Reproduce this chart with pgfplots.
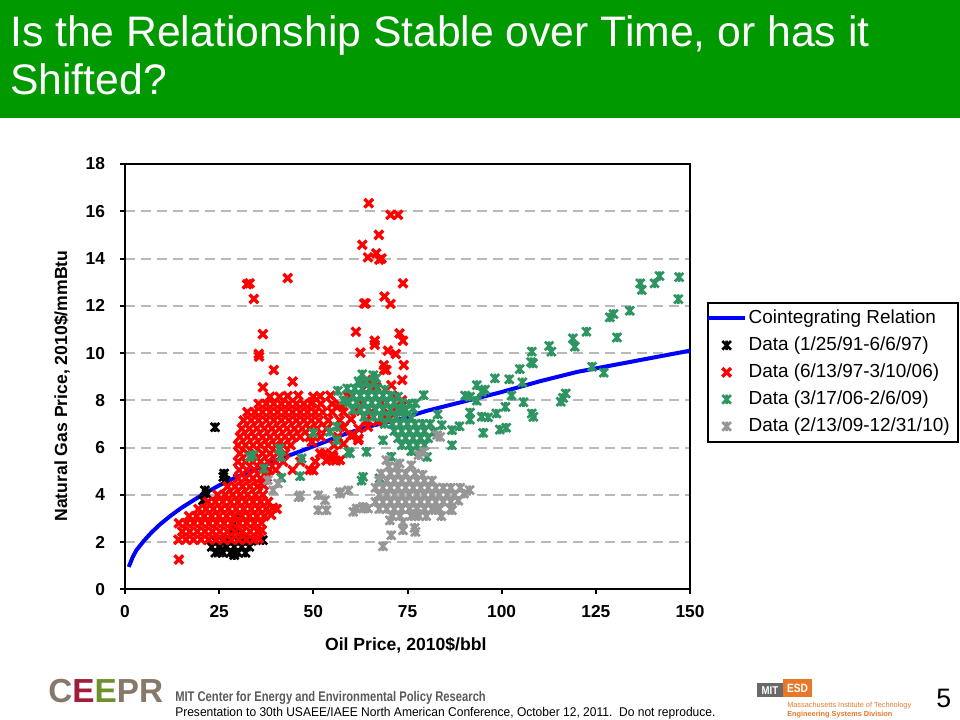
\documentclass[border=0pt]{standalone}
\usepackage{fontspec}
\setmainfont{Liberation Sans}
\usepackage{graphicx}
\usepackage{pgfplots}
\pgfplotsset{compat=1.18}

\definecolor{titlegreen}{RGB}{0,153,0}
\definecolor{gridgray}{RGB}{185,185,185}
\definecolor{seagreen}{RGB}{45,148,98}
\definecolor{markgray}{RGB}{150,150,150}
\definecolor{ceeprgray}{RGB}{135,120,105}
\definecolor{ceeprred}{RGB}{160,30,60}
\definecolor{ceeprgreen}{RGB}{110,145,45}
\definecolor{mitgray}{RGB}{105,105,105}
\definecolor{esdorange}{RGB}{230,120,40}
\definecolor{footgray}{RGB}{90,90,90}

% Excel-like markers: plain x and x with a vertical bar
\pgfdeclareplotmark{exx}{%
  \pgfpathmoveto{\pgfqpoint{-\pgfplotmarksize}{-\pgfplotmarksize}}%
  \pgfpathlineto{\pgfqpoint{\pgfplotmarksize}{\pgfplotmarksize}}%
  \pgfpathmoveto{\pgfqpoint{-\pgfplotmarksize}{\pgfplotmarksize}}%
  \pgfpathlineto{\pgfqpoint{\pgfplotmarksize}{-\pgfplotmarksize}}%
  \pgfusepathqstroke}
\pgfdeclareplotmark{exstar}{%
  \pgfpathmoveto{\pgfqpoint{-\pgfplotmarksize}{-\pgfplotmarksize}}%
  \pgfpathlineto{\pgfqpoint{\pgfplotmarksize}{\pgfplotmarksize}}%
  \pgfpathmoveto{\pgfqpoint{-\pgfplotmarksize}{\pgfplotmarksize}}%
  \pgfpathlineto{\pgfqpoint{\pgfplotmarksize}{-\pgfplotmarksize}}%
  \pgfpathmoveto{\pgfqpoint{0pt}{-1.1\pgfplotmarksize}}%
  \pgfpathlineto{\pgfqpoint{0pt}{1.1\pgfplotmarksize}}%
  \pgfusepathqstroke}

\pgfplotsset{
  markleg/.style={legend image code/.code={%
    \path[draw=none,fill=none] (0pt,0pt) -- (28pt,0pt);
    \draw[mark repeat=2,mark phase=2,##1] plot coordinates {(0pt,0pt) (14pt,0pt) (28pt,0pt)};}},
  lineleg/.style={legend image code/.code={%
    \path[draw=none,fill=none] (0pt,-1pt) rectangle (28pt,1pt);
    \draw[##1,overlay] (0pt,0pt) -- (28pt,0pt);}},
}

\begin{document}
\begin{tikzpicture}
\useasboundingbox (0,0) rectangle (720pt,-540pt);
\fill[white] (0,0) rectangle (720pt,-540pt);

\begin{scope}[x=0.75pt,y=-0.75pt]
  % title bar
  \fill[titlegreen] (0,0) rectangle (960,118);
  \node[anchor=base west, inner sep=0pt, text=white, font=\fontsize{32}{36}\selectfont]
    at (10,47) {Is the Relationship Stable over Time, or has it};
  \node[anchor=base west, inner sep=0pt, text=white, font=\fontsize{32}{36}\selectfont]
    at (10,95) {Shifted?};

  % footer
  \node[anchor=base west, inner sep=0pt, font=\fontsize{25}{25}\selectfont\bfseries]
    at (48,702) {\textcolor{ceeprgray}{C}\textcolor{ceeprred}{E}\textcolor{ceeprgreen}{E}\textcolor{ceeprgray}{PR}};
  \node[anchor=base west, inner sep=0pt, text=footgray, font=\fontsize{10.5}{12}\selectfont\bfseries]
    at (175,701) {\scalebox{0.80}[1]{MIT Center for Energy and Environmental Policy Research}};
  \node[anchor=base west, inner sep=0pt, font=\fontsize{9.5}{11}\selectfont]
    at (175,716) {\scalebox{0.95}[1]{Presentation to 30th USAEE/IAEE North American Conference, October 12, 2011.\ \ Do not reproduce.}};
  \fill[mitgray] (757,683) rectangle (783,697);
  \node[text=white, inner sep=0pt, font=\fontsize{8.5}{9}\selectfont\bfseries] at (770,690.5) {\scalebox{0.85}[1]{MIT}};
  \fill[esdorange] (783,679) rectangle (812,697);
  \node[text=white, inner sep=0pt, font=\fontsize{9}{9}\selectfont\bfseries] at (797.5,688.5) {\scalebox{0.85}[1]{ESD}};
  \node[anchor=base west, inner sep=0pt, text=esdorange, font=\fontsize{5.5}{6}\selectfont]
    at (787,707) {Massachusetts Institute of Technology};
  \node[anchor=base west, inner sep=0pt, text=esdorange, font=\fontsize{5.5}{6}\selectfont\bfseries]
    at (787,716) {Engineering Systems Division};
  \node[anchor=base west, inner sep=0pt, font=\fontsize{20}{20}\selectfont] at (936,707) {5};
\end{scope}

\begin{axis}[
  at={(93.75pt,-442pt)}, anchor=south west,
  scale only axis, width=423.75pt, height=319pt,
  xmin=0, xmax=150, ymin=0, ymax=18,
  xtick={0,25,...,150}, ytick={0,2,...,18},
  tick align=outside, tick pos=left, major tick length=3.5pt,
  tick style={line width=1.5pt, black},
  axis line style={line width=1.5pt, black},
  ymajorgrids,
  major grid style={line width=1.5pt, color=gridgray, dash pattern=on 7.5pt off 4.5pt},
  ticklabel style={font=\fontsize{13}{15}\selectfont\bfseries},
  /pgf/number format/assume math mode=true,
  yticklabel style={xshift=-8pt},
  xticklabel style={yshift=-5pt},
  xlabel={Oil Price, 2010\$/bbl},
  ylabel={Natural Gas Price, 2010\$/mmBtu},
  label style={font=\fontsize{13.2}{15}\selectfont\bfseries},
  xlabel style={at={(axis description cs:0.497,-0.131)}, anchor=center},
  ylabel style={at={(axis description cs:-0.1115,0.478)}, anchor=center},
  legend cell align=left,
  legend style={at={(axis description cs:1.030,0.6755)}, anchor=north west,
    draw=black, line width=1.5pt, font=\fontsize{14.2}{16}\selectfont,
    inner xsep=0pt, inner ysep=5pt, row sep=7.25pt,
    nodes={inner sep=0pt, text height=10pt, text depth=3pt},
    /tikz/every odd column/.append style={column sep=2.5pt}},
]

\addplot[blue, line width=3pt, lineleg]
coordinates {
(1,0.95) (1.5,1.15) (2,1.35) (3,1.65) (4,1.85) (5,2.05) (7,2.4) (9.3,2.75)
(12,3.1) (15,3.45) (20,3.95) (25,4.4) (30,4.78) (35,5.1) (40,5.45) (45,5.75)
(50,6.05) (58,6.55) (65,6.9) (73,7.2) (80,7.55) (90,7.95) (100,8.35)
(110,8.8) (120,9.2) (130,9.5) (140,9.8) (150,10.1)
};
\addlegendentry{Cointegrating Relation}

% 1/25/91-6/6/97
\addplot[only marks, black, mark=exstar, mark size=3.2pt, mark options={line width=2pt}, markleg]
coordinates {
(24.0,1.55) (26.0,1.55) (28.0,1.55) (30.0,1.55) (32.0,1.55)
(23.0,1.8) (25.0,1.8) (27.0,1.8) (29.0,1.8) (31.0,1.8) (33.0,1.8)
(24.0,2.05) (26.0,2.05) (28.0,2.05) (30.0,2.05) (32.0,2.05) (33.6,2.05)
(25.5,1.65) (29.0,1.45) (31.0,2.2) (27.5,2.1) (36.6,2.08) (23.9,6.86)
(21.2,4.19) (20.7,3.77) (21.7,4.05) (26.1,4.76) (26.7,4.6) (26.3,4.9)
(29.1,2.6) (29.3,3.0)
};
\addlegendentry{Data (1/25/91-6/6/97)}

% 6/13/97-3/10/06
\addplot[only marks, red, mark=exx, mark size=3.2pt, mark options={line width=2.5pt}, markleg]
coordinates {
(14.2,2.1) (16.2,2.1) (18.2,2.1) (20.2,2.1) (22.2,2.1) (24.2,2.1) (26.2,2.1) (28.2,2.1) (30.2,2.1) (32.2,2.1) (34.2,2.1) (35.5,2.15)
(15.2,2.45) (17.2,2.45) (19.2,2.45) (21.2,2.45) (23.2,2.45) (25.2,2.45) (27.2,2.45) (29.2,2.45) (31.2,2.45) (33.2,2.45) (35.2,2.45) (36.3,2.5)
(14.3,2.8) (16.3,2.8) (18.3,2.8) (20.3,2.8) (22.3,2.8) (24.3,2.8) (26.3,2.8) (28.3,2.8) (30.3,2.8) (32.3,2.8) (34.3,2.8) (36.2,2.8)
(17.0,3.1) (19.0,3.1) (21.0,3.1) (23.0,3.1) (25.0,3.1) (27.0,3.1) (29.0,3.1) (31.0,3.1) (33.0,3.1) (35.0,3.1) (37.0,3.1) (38.8,3.15)
(19.5,3.4) (21.5,3.4) (23.5,3.4) (25.5,3.4) (27.5,3.4) (29.5,3.4) (31.5,3.4) (33.5,3.4) (35.5,3.4) (37.5,3.4) (39.3,3.45) (40.3,3.4)
(22.0,3.7) (24.0,3.7) (26.0,3.7) (28.0,3.7) (30.0,3.7) (32.0,3.7) (34.0,3.7) (36.0,3.7) (38.0,3.7)
(24.6,4.0) (26.6,4.0) (28.6,4.0) (30.6,4.0) (32.6,4.0) (34.6,4.0) (36.6,4.0)
(27.2,4.35) (29.2,4.35) (31.2,4.35) (33.2,4.35) (35.2,4.35) (36.8,4.4)
(30.0,4.7) (32.0,4.7) (34.0,4.7) (36.0,4.7) (37.6,4.75)
(30.3,5.05) (32.3,5.05) (34.3,5.05) (36.3,5.05) (38.3,5.05) (40.0,5.05) (44.5,5.05) (49.0,5.05)
(30.0,5.4) (32.0,5.4) (34.0,5.4) (36.0,5.4) (38.0,5.4) (40.0,5.4) (42.0,5.4) (46.5,5.4) (50.5,5.4) (53.5,5.45) (56.0,5.45)
(30.5,5.75) (32.5,5.75) (34.5,5.75) (36.5,5.75) (38.5,5.75) (40.5,5.75) (42.5,5.75) (53.0,5.75) (55.0,5.7)
(30.0,6.1) (32.0,6.1) (34.0,6.1) (36.0,6.1) (38.0,6.1) (40.0,6.1) (42.0,6.1) (44.0,6.1) (55.5,6.1) (58.0,6.15)
(30.5,6.45) (32.5,6.45) (34.5,6.45) (36.5,6.45) (38.5,6.45) (40.5,6.45) (42.5,6.45) (44.5,6.45) (46.5,6.45) (49.0,6.45) (52.0,6.45) (56.5,6.45) (60.0,6.5)
(31.0,6.8) (33.0,6.8) (35.0,6.8) (37.0,6.8) (39.0,6.8) (41.0,6.8) (43.0,6.8) (45.0,6.8) (47.0,6.8) (49.0,6.8) (51.0,6.8) (53.5,6.8) (58.0,6.85) (62.0,6.8)
(31.5,7.15) (33.5,7.15) (35.5,7.15) (37.5,7.15) (39.5,7.15) (41.5,7.15) (43.5,7.15) (45.5,7.15) (47.5,7.15) (49.5,7.15) (51.5,7.15) (54.0,7.15) (57.0,7.15) (60.0,7.2) (64.0,7.15) (67.0,7.1)
(32.5,7.5) (34.5,7.5) (36.5,7.5) (38.5,7.5) (40.5,7.5) (42.5,7.5) (44.5,7.5) (46.5,7.5) (48.5,7.5) (50.5,7.5) (52.5,7.5) (55.0,7.5) (58.0,7.5) (61.0,7.55) (65.5,7.5) (70.0,7.45)
(35.5,7.85) (37.5,7.85) (39.5,7.85) (41.5,7.85) (43.5,7.85) (45.5,7.85) (47.5,7.85) (49.5,7.85) (52.0,7.85) (55.0,7.85) (59.0,7.9) (63.0,7.85) (68.0,7.9)
(38.5,8.15) (41.0,8.15) (46.0,8.2) (50.0,8.15) (54.5,8.2) (59.0,8.2)
(14.3,1.26) (64.7,16.34) (70.5,15.85) (72.5,15.85) (67.4,15.0) (63.0,14.58)
(64.5,14.05) (66.7,14.22) (68.1,14.0) (67.5,13.95) (32.4,12.91) (33.1,12.95)
(43.2,13.17) (73.8,12.95) (34.2,12.29) (63.5,12.1) (63.9,12.1) (68.9,12.39)
(70.5,12.08) (36.6,10.8) (61.3,10.9) (66.3,10.52) (66.3,10.35) (72.9,10.83)
(73.8,10.52) (35.5,9.96) (35.6,9.85) (62.5,10.02) (69.8,10.1) (71.9,9.96)
(39.5,9.28) (68.7,9.49) (68.9,9.3) (74.0,9.49) (44.5,8.79) (36.6,8.55)
(70.7,8.64) (73.6,8.86) (64.1,8.86) (51.8,8.18) (43.2,8.18) (59.3,8.15)
(64.2,8.64) (65.8,8.56) (66.7,8.57) (69.4,9.28) (49.7,7.92) (57.1,7.8)
(56.2,7.72) (68.5,7.16) (64.5,6.88) (60.6,6.53) (61.9,6.31) (55.3,5.61)
(57.1,6.88) (68.9,7.23) (50.0,5.04) (54.4,5.54) (57.1,5.47) (49.6,6.24)
(51.8,5.75) (62.0,6.38) (71.0,8.2) (73.5,8.0) (72.0,7.7)
};
\addlegendentry{Data (6/13/97-3/10/06)}

% 3/17/06-2/6/09
\addplot[only marks, seagreen, mark=exstar, mark size=3.2pt, mark options={line width=2pt}, markleg]
coordinates {
(137.2,12.67) (146.9,12.28) (128.7,11.51) (129.7,11.65) (134.0,11.79) (122.5,10.9)
(130.6,10.66) (118.9,10.62) (119.4,10.27) (112.6,10.3) (113.2,10.06) (141.9,13.26)
(147.1,13.21) (136.8,12.95) (140.6,12.95) (124.0,9.42) (127.1,9.17) (115.7,7.94)
(117.0,8.29) (116.3,8.1) (108.0,10.06) (108.3,9.56) (107.8,9.62) (104.8,9.32)
(98.2,8.93) (102.0,8.89) (105.5,8.76) (93.4,8.64) (94.7,8.36) (95.6,8.45)
(91.6,8.15) (102.6,8.2) (93.4,7.98) (101.0,7.72) (105.8,7.92) (91.6,7.48)
(91.6,7.18) (94.7,7.3) (96.4,7.28) (98.6,7.44) (108.0,7.44) (108.4,7.3)
(95.1,6.62) (99.5,6.76) (101.2,6.84) (90.3,8.2)
(79.3,8.22) (77.1,7.87) (84.1,6.95) (86.8,6.74) (86.8,6.1) (81.9,6.67)
(80.2,5.6) (68.5,6.31) (63.2,4.76) (67.6,4.7) (62.8,4.6) (59.7,5.75)
(64.1,5.82) (70.7,5.61) (33.1,5.6) (34.0,5.68) (36.9,5.11) (41.0,5.96)
(41.5,5.6) (46.9,5.54) (41.5,4.72) (46.5,4.79) (50.0,6.62) (54.4,6.67)
(56.2,6.31) (59.3,5.82) (56.2,6.88) (62.3,8.72) (66.7,8.93) (73.8,7.51)
(65.9,9.06) (63.0,9.1) (56.5,8.4) (58.0,8.0) (83.0,7.4) (88.8,6.9)
(62.0,8.8) (64.0,8.8) (66.0,8.75)
(59.0,8.5) (61.0,8.5) (63.0,8.5) (65.0,8.5) (67.0,8.5) (69.0,8.45)
(60.5,8.2) (62.5,8.2) (64.5,8.2) (66.5,8.2) (68.5,8.2) (70.5,8.2) (72.5,8.15)
(59.5,7.9) (61.5,7.9) (63.5,7.9) (65.5,7.9) (67.5,7.9) (69.5,7.9) (71.5,7.9) (73.5,7.9) (75.5,7.85)
(60.5,7.6) (62.5,7.6) (64.5,7.6) (66.5,7.6) (68.5,7.6) (70.5,7.6) (72.5,7.6) (74.5,7.6) (76.5,7.65)
(63.5,7.3) (66.0,7.3) (68.0,7.3) (70.0,7.3) (72.0,7.3) (74.0,7.3) (76.0,7.25)
(69.0,7.0) (71.0,7.0) (73.0,7.0) (75.0,7.0) (77.0,7.0) (79.0,7.0) (81.0,7.0)
(71.5,6.7) (73.5,6.7) (75.5,6.7) (77.5,6.7) (79.5,6.7)
(72.5,6.4) (74.5,6.4) (76.5,6.4) (78.5,6.4) (80.5,6.4)
(73.5,6.1) (75.5,6.1) (77.5,6.1) (79.5,6.1)
(76.0,5.85) (78.0,5.85)
};
\addlegendentry{Data (3/17/06-2/6/09)}

% 2/13/09-12/31/10
\addplot[only marks, markgray, mark=exstar, mark size=3.2pt, mark options={line width=2pt}, markleg]
coordinates {
(70.0,5.2) (72.0,5.2) (76.0,5.25)
(68.0,4.9) (70.5,4.9) (72.5,4.9) (74.5,4.9) (77.0,4.9) (79.0,4.85)
(67.5,4.6) (69.5,4.6) (71.5,4.6) (73.5,4.6) (75.5,4.6) (77.5,4.6) (79.5,4.6) (81.5,4.6)
(66.5,4.3) (68.5,4.3) (70.5,4.3) (72.5,4.3) (74.5,4.3) (76.5,4.3) (78.5,4.3) (80.5,4.3) (82.5,4.3) (84.5,4.3) (86.5,4.3) (89.0,4.3) (91.5,4.2)
(67.5,4.0) (69.5,4.0) (71.5,4.0) (73.5,4.0) (75.5,4.0) (77.5,4.0) (79.5,4.0) (81.5,4.0) (83.5,4.0) (85.5,4.0) (87.5,4.0) (90.0,4.05)
(66.5,3.7) (68.5,3.7) (70.5,3.7) (72.5,3.7) (74.5,3.7) (76.5,3.7) (78.5,3.7) (80.5,3.7) (82.5,3.7) (84.5,3.7) (86.5,3.7) (88.5,3.75)
(67.5,3.4) (69.5,3.4) (71.5,3.4) (73.5,3.4) (75.5,3.4) (77.5,3.4) (79.5,3.4) (81.5,3.4) (83.5,3.4) (86.5,3.4)
(71.0,3.1) (73.0,3.1) (76.0,3.1) (78.0,3.1) (80.0,3.1) (84.0,3.1)
(57.1,4.12) (59.3,4.19) (53.1,3.77) (53.5,3.35) (60.6,3.28) (63.2,3.42)
(64.5,3.42) (70.3,2.92) (73.8,2.85) (73.8,2.5) (77.1,2.43) (70.7,2.29)
(68.5,1.82) (77.9,5.68) (79.3,5.82) (72.9,5.33) (82.8,6.53) (83.7,6.45)
(69.4,5.47) (39.3,4.19) (40.6,4.48) (37.9,4.62) (46.5,3.98) (46.1,3.9)
(51.3,3.98) (51.3,3.35) (57.1,4.05) (61.5,3.42) (63.2,3.49) (77.5,3.2)
(76.9,2.6) (82.4,3.35) (86.8,3.35)
};
\addlegendentry{Data (2/13/09-12/31/10)\rule{6pt}{0pt}}

\end{axis}
\end{tikzpicture}
\end{document}
